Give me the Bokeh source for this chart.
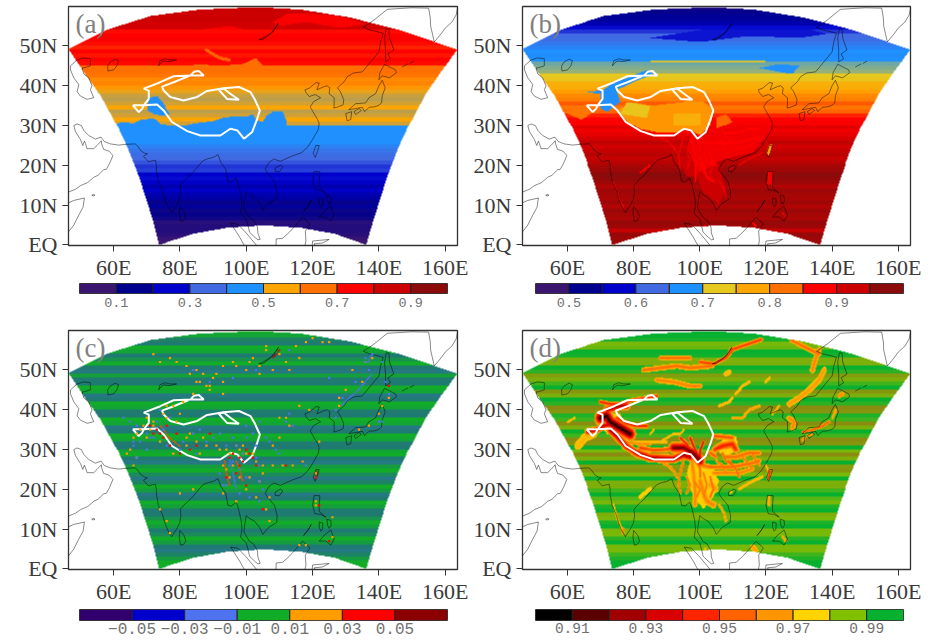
import numpy as np
from bokeh.plotting import figure
from bokeh.layouts import column, row
from bokeh.models import LinearColorMapper, FixedTicker
from bokeh.core.properties import value
from bokeh.embed import file_html
from bokeh.resources import INLINE

# ---- zonal band values, one per degree of latitude from the equator northward
bands_a = [.05,.06,.08,.09,.09,.08,.12,.14,.13,.17,.14,.18,.2,.24,.2,.24,.26,.25,.31,.3,.33,.35,.36,.38,.41,.45,.45,.45,.45,.45,
           .53,.55,.53,.52,.55,.53,.52,.525,.54,.58,.61,.6,.64,.65,.65,.74,.75,.73,.75,.72,.74,.76,.75,.74,.84,.84,.85,.85,.85,.86]
bands_b = [.96,.96,.965,.93,.96,.965,.95,.955,.96,.945,.96,.95,.955,.96,.945,.96,.97,.975,.96,.955,.94,.93,.94,.93,.92,.935,.915,.9,.89,.905,
           .88,.875,.86,.83,.82,.835,.81,.8,.78,.765,.76,.73,.725,.705,.7,.695,.675,.67,.675,.66,.645,.63,.625,.6,.58,.55,.535,.53,.52,.5]
bands_c = [0,0,-.004,-.01,-.013,-.012,-.004,0,-.008,-.012,-.004,0,-.006,-.012,-.012,-.003,0,-.012,-.013,-.004,0,-.01,-.013,-.008,0,-.004,-.013,-.012,0,-.002,
           -.012,-.012,-.002,0,-.012,-.013,-.002,0,-.012,-.012,-.002,0,-.012,-.013,-.002,0,-.012,-.012,-.003,-.013,-.012,0,-.006,-.012,-.002,0,-.012,-.01,-.002,0]
bands_d = [.995,.995,.993,.99,.985,.985,.995,.992,.985,.985,.995,.993,.985,.984,.995,.993,.985,.988,.995,.99,.984,.984,.995,.985,.981,.982,.995,.984,.98,.985,
           .995,.981,.98,.99,.995,.984,.98,.99,.993,.981,.98,.992,.995,.984,.981,.995,.99,.984,.982,.992,.995,.984,.984,.994,.995,.986,.985,.994,.995,.995]

# ---- colour levels and tick labels
levels_a = [0,.1,.2,.3,.4,.5,.6,.7,.8,.9,1.0]
levels_b = [.45,.5,.55,.6,.65,.7,.75,.8,.85,.9,.95,1.0]
levels_c = [-.07,-.05,-.03,-.01,.01,.03,.05,.07]
levels_d = [.90,.91,.92,.93,.94,.95,.96,.97,.98,.99,1.0]
colors_a = ["#3a1670","#00008f","#0000cd","#4169e1","#1e90ff","#ffa500","#ff7000","#ff0000","#cd0000","#8b0a0a"]
colors_b = ["#3a1670","#00008f","#0000cd","#4169e1","#1e90ff","#e6c81e","#ffa500","#ff7000","#ff0000","#cd0000","#8b0a0a"]
colors_c = ["#32006e","#0000cd","#4f73f0","#10ac28","#ff9d00","#ff0000","#8b0000"]
colors_d = ["#000000","#5a0000","#a00000","#d80000","#ff2400","#ff6200","#ff9600","#ffd400","#80c000","#08b030"]
ticks_a = [.1,.3,.5,.7,.9];            labels_a = ["0.1","0.3","0.5","0.7","0.9"]
ticks_b = [.5,.6,.7,.8,.9];            labels_b = ["0.5","0.6","0.7","0.8","0.9"]
ticks_c = [-.05,-.03,-.01,.01,.03,.05]; labels_c = ["\u22120.05","\u22120.03","\u22120.01","0.01","0.03","0.05"]
ticks_d = [.91,.93,.95,.97,.99];       labels_d = ["0.91","0.93","0.95","0.97","0.99"]
lon_ticks = [60,80,100,120,140,160];   lon_labels = ["60E","80E","100E","120E","140E","160E"]
lat_ticks = [0,10,20,30,40,50];        lat_labels = ["EQ","10N","20N","30N","40N","50N"]

# ---- model domain outline (lon, lat)
domain = [(73.6,0),(71.9,5.7),(67.6,17),(64,24.6),(61,30),(56,37.6),(51,43.5),(46.4,49.2),(58,54.1),(71.1,57.5),(86.2,59.1),(100.3,59.6),(105,59.65),
          (116.4,59.1),(131.5,57.1),(146.6,53.9),(163.7,49.1),(158.7,43.5),(154.2,38),(149.1,30),(146.1,24.6),(142.6,17),(138.3,5.7),(136.3,0),
          (126.5,2.8),(116.4,4.3),(105.3,4.9),(94.2,4.3),(84.2,2.8)]

# ---- coast lines
coast_main = [(46.4,13.3),(48.5,14),(50,14.9),(52.2,15.7),(54,17),(55.3,17.5),(57,18.9),(57.8,19),(58.8,20.5),(59.8,22.5),(58.6,23.6),(57,24),(56.4,25.4),(56.3,26.2),(55,25),(54,24.2),(52,24.2),(51.5,25.5),(51.2,26.1),(50.7,25),(50,26.5),(48.5,28.5),(48,30),(49,30.4),(50.3,30),(51,28.8),(52.5,27.5),(54.5,26.6),(56.2,27.1),(57.2,26),(59,25.4),(61.5,25.1),(64,25.3),(66.5,25.4),(67.3,24.8),(68.2,23.7),(69.5,23),(70.2,22.9),(69,22.3),(70.5,20.9),(72,21.2),(72.6,21.3),(72.9,20),(72.9,18.8),(73.5,16),(74.8,13.5),(75.5,11.5),(76.3,9.8),(77.5,8.1),(78.2,9),(79.2,10.3),(79.9,11.5),(80.3,13.3),(80.1,15),(81.5,16.3),(83.5,17.8),(85.5,19.8),(87,21.2),(88.5,21.7),(90,22),(91.5,22.7),(92.3,20.8),(93.8,19),(94.5,16),(95.5,15.8),(97,16.8),(97.7,15),(98.5,12),(98.7,10),(98.3,8),(100,6.5),(100.5,5),(101,3.2),(102.5,2),(103.5,1.3),(104.2,1.4),(103.5,3),(103.4,4.5),(102.3,6.2),(101,6.9),(100,8.3),(99.3,9.3),(99.5,11),(100,13.4),(101,12.7),(102.5,12),(104,10.5),(105,8.7),(106.7,10.4),(109.2,11.7),(109.3,13.5),(108.5,16),(106.5,18),(105.7,19),(106.8,20.7),(108.3,21.6),(110.3,21),(111.8,21.6),(114,22.4),(116.7,23.2),(118.5,24.6),(120,26.5),(121.7,29),(122,30.5),(121.5,31.5),(120.8,32.5),(119.3,34.7),(120.3,36),(122.4,37),(120.8,37.8),(119,37.3),(118,38.3),(117.7,39),(119,39.4),(121,40.8),(122,40.7),(121.3,39),(123.5,39.8),(124.4,40),(125.2,39.5),(125,38),(126.5,37),(126.5,35),(126.4,34.4),(127.7,34.7),(129.2,35.2),(129.4,36.5),(128.4,38.5),(127.5,39.5),(129.5,41),(130.5,42.3),(132.3,43.2),(135,43.5),(137,45.5),(140,48.5),(140.5,51),(141.3,53.2),(138.5,53.8),(137.3,54),(135.3,54.7),(138.5,56.5),(142.5,59.2),(146,59.4),(150,59.6),(155,59.5),(155.5,57),(155.6,55),(156.7,51),(158.7,53),(160,54.5),(162,56),(163.3,57.8),(163.8,60)]
coast_somalia = [(46.4,3.3),(48,5),(49.5,7.5),(50.8,9.5),(51.2,11.8),(48,11.2),(46.4,10.6)]
coast_socotra = [(53.4,12.5),(54,12.7),(54.4,12.5),(53.8,12.3),(53.4,12.5)]
coast_srilanka = [(79.8,8),(80,9.7),(81.2,8.5),(81.8,7),(81,6.1),(80.2,6),(79.8,8)]
coast_hainan = [(108.7,19.3),(110.4,20.1),(111,19.6),(110,18.4),(108.7,18.5),(108.7,19.3)]
coast_taiwan = [(120.2,23),(121,25),(122,25),(121.5,23.5),(120.8,22),(120.2,23)]
coast_luzon = [(120.5,18.5),(122.2,18.4),(122,16),(122,14.5),(124,13),(122.5,13.7),(120.7,13.9),(120,16),(120.5,18.5)]
coast_visayas = [(122,11.8),(123.1,11.5),(123,10),(122.5,9.5),(122,10.5),(122,11.8)]
coast_samar = [(124.3,12.5),(125.5,12.2),(125.6,11),(125,10.2),(124.5,11),(124.3,12.5)]
coast_mindanao = [(122,7),(124,7),(125.5,6),(126.5,7.5),(125.5,9.8),(123.5,8.5),(122,7)]
coast_palawan = [(117.3,8.4),(118.5,9.6),(119.6,11.2),(118.8,10),(117.3,8.4)]
coast_sumatra = [(95.3,5.5),(97.5,5.2),(100,3),(103,0),(103.5,-1),(100,-1),(98,2),(95.3,5.5)]
coast_borneo = [(109,-1),(109,1.5),(111,1.7),(113,3.2),(115.3,5.3),(117,7),(119.2,5.3),(117.8,3.5),(118,1),(117.5,-1)]
coast_sulawesi = [(119.8,-1),(120,1),(125,1.4),(123,.5),(120.5,.3),(121,-1)]
coast_kyushu = [(130,33),(131.8,33.5),(131.5,31.5),(130.4,31.2),(130,33)]
coast_honshu = [(130.9,34),(133,35.5),(136,35.7),(137,37),(139,38),(140,40),(141,41.4),(141.9,39.5),(141,37.5),(140.8,35.7),(139.8,35),(138.5,34.7),(137,34.6),(135.7,33.5),(135,34.6),(132.5,34.2),(130.9,34)]
coast_shikoku = [(132.5,33.5),(134,34.3),(134.7,33.8),(133,32.8),(132.5,33.5)]
coast_hokkaido = [(140,41.5),(140.3,43.3),(141.7,45.4),(145,44),(145.3,43.3),(143.2,42),(141,42.5),(140,41.5)]
coast_sakhalin = [(142,46),(143.5,46.8),(142.7,48),(144.5,49),(143.2,52),(143,54.3),(142.2,54.3),(141.7,52),(142,49),(142,46)]
coast_kuril1 = [(147,44.7),(148.8,45.5)]
coast_kuril2 = [(149.3,45.6),(150.6,46.2)]
coast_caspian = [(47,45),(49,46.5),(51,47),(53,46.8),(53,45),(51,44.5),(50.5,44.5),(51,43),(52.5,42),(53,41),(53.5,40),(53,39),(54,37),(52,36.6),(50,37.4),(49,38.5),(49.5,40.3),(48,42),(47,44),(47,45)]
coast_aral = [(58.2,45),(59,46),(60.5,46.7),(61.5,46.3),(61,45),(60,44),(58.3,43.7),(58.2,45)]
coast_balkhash = [(73.6,45),(74,46.3),(75.5,46.8),(77,46.5),(79,46.5),(77,46.1),(75,46.2),(74,45.5),(73.6,45)]
coast_baikal = [(103.8,51.6),(105,52),(108,53.5),(109.7,55.7),(109.2,55),(107,52.8),(105,51.6),(103.8,51.6)]
coasts = [coast_main,coast_somalia,coast_socotra,coast_srilanka,coast_hainan,coast_taiwan,coast_luzon,coast_visayas,coast_samar,coast_mindanao,coast_palawan,
          coast_sumatra,coast_borneo,coast_sulawesi,coast_kyushu,coast_honshu,coast_shikoku,coast_hokkaido,coast_sakhalin,coast_kuril1,coast_kuril2,
          coast_caspian,coast_aral,coast_balkhash,coast_baikal]

# ---- white contour
white_outer = [(65.8,35.1),(67.6,33.4),(68.6,34.2),(69.1,35.1),(73.1,35.3),(75.1,33.8),(77.6,30.9),(82.2,28.6),(86.2,27.5),(92.2,27.5),(95.2,29.2),(97.3,28.8),(99.3,26.7),(101.8,28.4),(103.3,31.7),(104.1,33.8),(102.5,36.7),(101.3,38.4),(97.8,39.7),(93.2,39.4),(88.2,38.7),(85.2,37.2),(81.1,36.3),(77.1,37.2),(75.1,38.8),(74.6,39.8),(78.1,40.9),(83.2,42.6),(87.2,42.6),(85.7,43.7),(84.2,43.5),(83.2,42.6),(78.1,42.4),(74.1,40.9),(69.1,39.3),(70.6,38.8),(70.6,36.7),(69.1,35.1),(65.8,35.1)]
white_inner = [(91.7,39),(94.2,36.7),(97.8,36.5),(95.2,38),(93.2,39.3),(91.7,39)]

# ---- land regions: panel (a) values capped
a_cap_tibet = [(60,29.8),(62,31),(66,30.6),(68,31.5),(72,32),(74,30.5),(78,30),(82,30.2),(86,30.8),(90,31.2),(93,32),(97,32.5),(100,32.3),(102,33),(103,31.5),(105,31),(106,32.5),(108,33.5),(111,33.5),(112,31.5),(112,29.8)]
a_cap_pamir = [(70,34),(70.5,37),(73,37.5),(75,35.5),(77,33),(75,32.5),(72,33)]
a_cap_north = [(80,44),(85,45.5),(92,45),(99,45.5),(103,47),(105,45),(104,44)]
a_cap_top1 = [(108,56),(112,58),(118,58.2),(128,57.5),(136,55.5),(128,54.5),(118,56),(110,55)]
a_cap_top2 = [(85,54),(95,55),(105,53),(90,53)]
# ---- land regions: panel (b) values capped
b_cap_tibet = [(75,34),(78,31),(82,29),(88,28),(93,28),(96,29),(100,27.5),(103,30),(104,34),(101,36),(95,36),(85,35),(80,36)]
b_cap_tibet_e = [(92,30),(100,30),(100,33),(92,33)]
b_cap_tibet_w = [(76,33),(84,32),(85,35),(78,36)]
b_cap_iran = [(59,33.5),(66,35.5),(67,33),(64,31.5)]
b_cap_china = [(98,30),(105,31),(111,32),(118,32),(122,30),(120,27),(116,23),(110,22),(106,21),(100,18),(96,24)]
b_cap_indo = [(93,22),(100,22),(106,20),(108,14),(106,10),(101,13),(99,17),(96,17)]
b_cap_sichuan = [(105,29),(110,31),(108,33),(105,32)]
b_cap_taiwan = [(120.2,23),(121,25),(122,25),(121.5,23.5),(120.8,22)]
b_cap_luzon = [(120.3,15),(120.5,18.5),(122.2,18.4),(122,15)]
b_cap_tarim = [(66,38.5),(71,39),(74,41),(78,42),(84,44),(86,43),(80,41),(75,39),(76,36),(72,33.5),(70,34.5),(70,38)]
b_cap_manchuria = [(118,44.5),(124,43.5),(128,43),(130,45),(124,45.5)]
b_cap_siberia = [(85,52),(100,54),(115,55.5),(130,55),(138,53),(130,52),(115,52.5),(100,51)]
b_set_steppe = [(85,45.8),(120,45.8),(120,46.4),(85,46.4)]
# ---- land regions of panel (d) filled with the yellow class
d_fill_south = [(97,27),(100,27),(104,25),(106,22),(104,18),(101,15),(99,17),(97,20),(96,24)]
d_fill_pamir = [(70,36),(72,39),(76,39),(78,35),(76,33),(72,34)]
d_fill_sichuan = [(106,29),(107,33),(111,33.5),(112,30),(109,28.5)]

# ---- mountain ridges of panel (d): parallel lists
ridge_lons = [[73,75,78,81,85,89,92,95,97],[70,72,73,75,77,79],[66,69,71,73],[75,78,81,84],[92,95,97,99,100],[97,98,99],[101,100,100],[94,96,97],[95,90,86,82],[78,82,85],
 [104,107,110],[104.5,107,110,111],[103,105],[100,103,106,110,113,116,118],[104,108,112,116],[108,111,115,118],[95,94,93.5,94],[97.5,98,98.5,98.5],[100,101,102,104],[106,107.5,108],[103,105],[93,92,91,88],
 [74,75,76.5],[76.8,77],[82,85],[70,73,76,78,80,84,87],[72,76,78],[83,88,93,97,103.5],[88,92,97],[87,92,97,100],[109.5,113,118.6],[100,104,108,110],[127.7,131,136],[134,135,136],
 [120,121],[127,130,133,136,137.5],[110,113,115,118],[127,128.5,128],[131,134,137,139],[140,141],[142,143],[132.5,134],[131,131.5],[120.8,121.3],[121,121],[125,126],[97,99,100.5],[116,117],[109.3,109.8],[101.5,102],
 [63,65,68],[80,85,90],[88,92],[60,62],[108,109],[121,120],[85,86],[92.5,94,95],[106,109,110],[111,113,115],[112,116,119],[122,124],
 [98,100,99],[101,102,101],[103,104,103],[105,107,108],[109,111,112],[113,115,116],[99,100,100],[96,97,96],[107,108,110],[116,117,118]]
ridge_lats = [[35,33.5,30.8,29,27.8,27.6,27.5,28.5,28],[38,38.5,37,36,35,34],[34.5,35,36,36.5],[38,36.6,36,36],[30.5,30.5,29.5,28,27],[33,31,29],[32,30,28],[33,31.5,30],[31,30,29.8,30.5],[32,31.5,31.5],
 [33.5,33.3,33],[30,31,31.5,30],[29,28],[26,25.5,25.5,25.5,26,26.5,27],[24,24,24,25],[28,28,29,29],[27,24,22,19],[27,24,20,16],[22,19,17,16],[16,14,12],[21,20],[23,24.5,25.5,27],
 [16,13,10],[9,10],[18,20],[42,41.5,41.5,42,42.5,43,43.5],[40,41,41],[50,50.5,51,50.5,51],[53,53,53],[47.5,47,46,46],[55,56,57.6],[52,51.5,53,55],[57.5,56,54],[50,53,55],
 [47,48],[41.5,43,45,47.5,50],[38,38,40,41],[38,37,35.5],[34.5,35,36,37],[38,40],[43.5,44],[33.5,33.8],[32.5,33],[22.5,24.5],[16,18],[8,7],[4,2,0],[5.5,4.7],[19,19.3],[5,3.5],
 [31,33,34],[32,32,32],[32,34],[37,38],[49,49.5],[24,26],[34,35],[34,34,35],[41,42,43],[44,46,47],[20,22,23],[39,41],
 [22,20,18],[24,21,18],[23,20,18],[27,26,24],[27,25,23],[28,26,25],[27,25,23],[23,21,19],[29,27,26],[29,27,26]]
ridge_widths = [1.2,1.8,1.0,.6,1.6,.5,.5,.5,.8,.4,.7,1.1,.6,.7,.6,.7,.4,.7,.9,.4,.9,.4,.3,.4,.6,.6,1.1,.7,.6,.7,.6,.6,.7,.8,.4,.8,.4,.7,.4,.4,.6,.3,.4,.5,.4,.4,.5,.7,.3,.4,1.1,.3,.3,.3,.7,.3,.3,.3,.4,.4,.4,.3,
 .4,.4,.4,.4,.4,.4,.4,.4,.4,.4]
ridge_values = [.925,.905,.93,.94,.915,.93,.93,.935,.945,.96,.95,.94,.95,.955,.96,.955,.955,.96,.96,.965,.965,.96,.97,.955,.975,.94,.925,.955,.955,.96,.945,.945,.955,.96,.97,.965,.965,.96,.95,.965,.96,.96,.96,.94,.965,.965,.965,.965,.97,.97,.97,.97,.97,.97,.97,.97,.97,.97,.97,.97,.97,.97,
 .955,.955,.95,.955,.95,.955,.95,.955,.95,.955]

# ---- panel (c) thin coherent streaks
streak_lons = [[128.5,131,135,138],[137,138],[120.8,121.3],[74,77,80],[95,96,97],[93.5,94,95],[108,110],[97,98,99]]
streak_lats = [[41,43,46,49],[52,54],[22.5,24.5],[36,33,31],[28,24,20],[27,24,21],[53,55],[27,25,22]]
streak_values = [-.02,-.02,.05,.03,-.02,.03,.05,.03]
speck_o_lon = [72,74,77,79,82,85,87,90,93,85,88,93,97,100,104,108,112,118,120,125,115,110,106,136,138,132,135,130,128,128,110,112,113,70,72,68,66,67,66,75,76,78,80,82,85,88,91,94,97,99,100,102,103,105,108,111,114,117,110,108,94,95,93,97,100,103,106,107,74,76,77,80,84,116,118,126,121,121,140,141,143,137,134,83,86,89,91,96,102,116,123,
 76,79,83,87,92,95,99,72,71,69,74,78,82,86,81,84,89,93,101,104,106,113,116,119,122,98,96,93,98,101,104,105,107,121,126,70,67,65,64]
speck_o_lat = [54,52,53,52,51,50,49,48,47,47,46,51,51,50,51,50,52,57,58,57,56,54,56,52,53,50,47,45,43,41,38,38,36,38,37,35,33,28,26,39,41,41,39,33,32,31,31,30,31,31,29,29,27,26,26,26,26,27,33,31,25,23,19,17,20,18,15,12,15,12,9,19,20,6,6,8,17,24,39,41,43,36,35,49,47,46,49,52,53,53,57,
 38,37,34,33,30,29,29,36,35,36,32,29,31,29,42,44,45,44,52,49,55,50,41,40,32,30,26,26,23,23,22,24,18,16,13,33,34,30,29,28]
speck_b_lon = [70,72,65,67,63,84,89,96,103,113,138,136,133,129,127,127,112,113,114,106,107,109,102,96,92,92,93,96,98,100,104,105,73,75,84,88,100,104,121,141,142,141,136,99,103,76,80,66,68,86,90,94,110,118,125,
 74,77,81,85,97,100,103,104,95,94,98,101,104,71,67,66,70,137,140,143]
speck_b_lat = [34,33,37,36,38,50,47,48,50,55,54,52,47,43,40,38,37,39,36,33,32,30,34,33,34,24,21,27,25,23,22,20,37,35,34,32,36,37,23,37,47,52,53,29,31,31,30,31,32,35,33,31,29,26,48,
 40,38,32,29,31,33,28,26,26,21,19,18,17,33,28,32,30,50,37,44]
speck_r_lon = [75,77,80,71,72,74,98,99,101,96,94,100,121,143,122,125,112,89,97,103,105,85,73,76,79,83,95,102,100,98]
speck_r_lat = [33,31,29,36,34,34,28,27,29,29,23,21,23,46,16,7,26,34,24,26,15,31,35,36,34,30,28,28,30,26]

X0, X1, Y0, Y1 = 46.4, 163.7, -0.13, 59.92
lon_c = np.arange(X0+.15, X1, .3)
lat_c = np.arange(Y0+.125, Y1, .25)
LON, LAT = np.meshgrid(lon_c, lat_c)

def inside(poly):
    pts = np.array(poly, float)
    x0, y0 = pts[:,0], pts[:,1]
    x1, y1 = np.roll(x0,-1), np.roll(y0,-1)
    hit = np.zeros(LON.shape, bool)
    for a, b, c, d in zip(x0, y0, x1, y1):
        if b == d: continue
        hit ^= ((b > LAT) != (d > LAT)) & (LON < (c-a)*(LAT-b)/(d-b)+a)
    return hit

MASK = inside(domain)

def base(bands):
    idx = np.clip(np.floor(LAT).astype(int), 0, 59)
    return np.array(bands, float)[idx]

def dist(lons, lats):
    out = np.full(LON.shape, 1e9)
    for i in range(max(1,len(lons)-1)):
        j = min(i+1, len(lons)-1)
        ax, ay, bx, by = lons[i], lats[i], lons[j], lats[j]
        dx, dy = bx-ax, by-ay
        t = np.clip(((LON-ax)*dx+(LAT-ay)*dy)/max(dx*dx+dy*dy,1e-9), 0, 1)
        out = np.minimum(out, np.hypot(LON-ax-t*dx, LAT-ay-t*dy))
    return out

def ramp(pos, colors, n=900):
    rgb = np.array([[int(c[i:i+2],16) for i in (1,3,5)] for c in colors], float)
    s = np.linspace(pos[0], pos[-1], n)
    m = np.stack([np.interp(s, pos, rgb[:,k]) for k in range(3)], axis=1)
    return ["#%02x%02x%02x" % tuple(int(round(v)) for v in r) for r in m]

def centres(levels):
    return [(a+b)/2 for a, b in zip(levels[:-1], levels[1:])]

def image_mapper(pos, colors):
    return LinearColorMapper(palette=ramp(pos, colors), low=pos[0], high=pos[-1], nan_color="rgba(0,0,0,0)")

# image colour nodes: level centres, with the blended band tones added in (c) and (d)
pos_c = [-.06,-.04,-.02,-.012,0,.02,.04,.06]
img_c = ["#32006e","#0000cd","#4f73f0","#1f7a72","#10ac28","#ff9d00","#ff0000","#8b0000"]
pos_d = [.905,.915,.925,.935,.945,.955,.965,.975,.98,.985,.995]
img_d = ["#000000","#5a0000","#a00000","#d80000","#ff2400","#ff6200","#ff9600","#ffd400","#8a8c10","#78b808","#08b030"]

# fields
Za = base(bands_a)
for poly, cap in [(a_cap_tibet,.45),(a_cap_pamir,.45),(a_cap_north,.65),(a_cap_top1,.76),(a_cap_top2,.76)]:
    Za = np.where(inside(poly), np.minimum(Za,cap), Za)
Za = np.where(dist([88,92,95],[49,47,46.5])<.4, np.minimum(Za,.66), Za)

Zb = base(bands_b)
for poly, cap in [(b_cap_china,.89),(b_cap_indo,.925),(b_cap_tibet,.79),(b_cap_tibet_e,.76),(b_cap_tibet_w,.73),(b_cap_iran,.82),(b_cap_sichuan,.83),(b_cap_taiwan,.79),(b_cap_luzon,.89),(b_cap_tarim,.675),(b_cap_manchuria,.675),(b_cap_siberia,.585)]:
    Zb = np.where(inside(poly), np.minimum(Zb,cap), Zb)
Zb = np.where(inside(b_set_steppe), .72, Zb)
for lo_, la_, w in zip(ridge_lons, ridge_lats, ridge_widths):
    if np.mean(la_) < 32:
        Zb = np.where(dist(lo_,la_) < w*.4, np.minimum(Zb,.875), Zb)

Zc = base(bands_c)
for lo_, la_, v in zip(streak_lons, streak_lats, streak_values):
    Zc = np.where(dist(lo_,la_) < .16, v, Zc)

Zd = base(bands_d)
for poly in (d_fill_south, d_fill_pamir, d_fill_sichuan):
    Zd = np.where(inside(poly), np.minimum(Zd,.974), Zd)
for lo_, la_, w, v in zip(ridge_lons, ridge_lats, ridge_widths, ridge_values):
    d = dist(lo_,la_)
    Zd = np.where(d < w, np.minimum(Zd, v+(.972-v)*d/w), Zd)

FONT = "Liberation Serif"
def panel(Z, mapper, tag, left, right, top):
    p = figure(width=left+389+right, height=top+239+38, x_range=(X0,X1), y_range=(Y0,Y1), output_backend="svg", toolbar_location=None,
               min_border_left=left, min_border_right=right, min_border_top=top, min_border_bottom=38, frame_align=False)
    p.grid.visible = False
    p.outline_line_color = "#333333"; p.outline_line_width = 1.3
    p.image(image=[np.where(MASK, Z, np.nan)], x=X0, y=Y0, dw=X1-X0, dh=Y1-Y0, color_mapper=mapper)
    p.multi_line([[q[0] for q in c] for c in coasts], [[q[1] for q in c] for c in coasts], line_color="#000000", line_width=0.55, line_alpha=0.85)
    p.multi_line([[q[0] for q in white_outer],[q[0] for q in white_inner]], [[q[1] for q in white_outer],[q[1] for q in white_inner]], line_color="white", line_width=2)
    p.xaxis.ticker = FixedTicker(ticks=lon_ticks)
    p.yaxis.ticker = FixedTicker(ticks=lat_ticks)
    p.xaxis.major_label_overrides = dict(zip(lon_ticks, lon_labels))
    p.yaxis.major_label_overrides = dict(zip(lat_ticks, lat_labels))
    for ax in (p.xaxis[0], p.yaxis[0]):
        ax.major_label_text_font = FONT
        ax.major_label_text_font_size = "22px"
        ax.major_label_text_color = "#3a3a3a"
        ax.major_tick_in = 0; ax.major_tick_out = 6
        ax.minor_tick_line_color = None
        ax.major_tick_line_color = "#333333"
        ax.axis_line_color = None
    p.xaxis.major_label_standoff = 3
    p.yaxis.major_label_standoff = 5
    p.text(x=[48.5], y=[55.6], text=[tag], text_font=value(FONT), text_font_size="27px", text_color="#808080", text_baseline="middle", text_align="left")
    return p

def bar(levels, colors, ticks, labels, left, right, top, h, bottom, fs, standoff):
    p = figure(width=left+368+right, height=top+h+bottom, x_range=(levels[0],levels[-1]), y_range=(0,1), output_backend="svg", toolbar_location=None,
               y_axis_location=None, min_border_left=left, min_border_right=right, min_border_top=top, min_border_bottom=bottom, frame_align=False)
    p.grid.visible = False
    p.outline_line_color = "#555555"
    p.quad(left=levels[:-1], right=levels[1:], bottom=0, top=1, fill_color=colors, line_color="#222222", line_width=1)
    ax = p.xaxis[0]
    ax.ticker = FixedTicker(ticks=ticks)
    ax.major_label_overrides = dict(zip(ticks, labels))
    ax.major_tick_line_color = None; ax.minor_tick_line_color = None; ax.axis_line_color = None
    ax.major_tick_in = 0; ax.major_tick_out = 0
    ax.major_label_standoff = standoff
    ax.major_label_text_font = "Liberation Mono"
    ax.major_label_text_font_size = fs
    ax.major_label_text_color = "#707070"
    return p

pa = panel(Za, image_mapper(centres(levels_a), colors_a), "(a)", 68, 13, 6)
pb = panel(Zb, image_mapper(centres(levels_b), colors_b), "(b)", 51, 30, 6)
pc = panel(Zc, image_mapper(pos_c, img_c), "(c)", 68, 13, 1)
pd_ = panel(Zd, image_mapper(pos_d, img_d), "(d)", 51, 30, 1)

pc.scatter(speck_o_lon, speck_o_lat, marker="square", size=2.2, color=colors_c[4], line_width=0)
pc.scatter(speck_b_lon, speck_b_lat, marker="square", size=2.2, color=colors_c[2], line_width=0)
pc.scatter(speck_r_lon, speck_r_lat, marker="square", size=2.2, color=colors_c[5], line_width=0)

ba = bar(levels_a, colors_a, ticks_a, labels_a, 79, 23, 0, 10, 36, "13.5px", 4)
bb = bar(levels_b, colors_b, ticks_b, labels_b, 65, 37, 0, 10, 36, "13.5px", 4)
bc = bar(levels_c, colors_c, ticks_c, labels_c, 79, 23, 2, 11, 19, "16px", 2)
bd = bar(levels_d, colors_d, ticks_d, labels_d, 65, 37, 2, 11, 19, "14.5px", 2)

root = column(row(column(pa, ba, spacing=0), column(pb, bb, spacing=0), spacing=0),
              row(column(pc, bc, spacing=0), column(pd_, bd, spacing=0), spacing=0),
              spacing=0)
open("out.html", "w").write(file_html(root, INLINE))
